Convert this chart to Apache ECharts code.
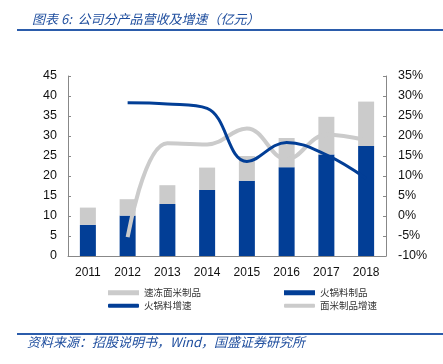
<!DOCTYPE html>
<html>
<head>
<meta charset="utf-8">
<script src="https://cdn.jsdelivr.net/npm/echarts@6/dist/echarts.min.js"></script>
<style>
html,body{margin:0;padding:0;background:#fff;}
#c{width:443px;height:364px;}
</style>
</head>
<body>
<div id="c"></div>
<script>
var years = ['2011','2012','2013','2014','2015','2016','2017','2018'];
var hotpotSales = [7.8, 10.1, 13.0, 16.5, 18.8, 22.2, 25.4, 27.5];
var noodleSales = [4.3, 4.1, 4.7, 5.6, 6.2, 7.3, 9.4, 11.1];
var hotpotGrowth = [null, 28.3, 28.0, 26.9, 13.6, 18.4, 15.3, 9.4];
var noodleGrowth = [null, -5.3, 18.2, 17.9, 21.9, 14.2, 20.3, 19.0];

var BLUE = '#023e96';
var GREY = '#cbcbcb';
var FONT = 'Liberation Sans, Arial, sans-serif';
var CJK = '"Noto Sans CJK SC", sans-serif';

var chart = echarts.init(document.getElementById('c'));
function leg(name, left, top, icon, h) {
  return {
    data: [{name: name, icon: icon}],
    left: left, top: top,
    itemWidth: 31, itemHeight: h, itemGap: 0,
    padding: 0,
    selectedMode: false,
    textStyle: {fontFamily: CJK, fontSize: 9.5, color: '#333', padding: [0,0,0,0]}
  };
}
chart.setOption({
  animation: false,
  title: {
    text: '图表 6:  公司分产品营收及增速（亿元）',
    left: 27, top: 8,
    textStyle: {fontFamily: CJK, fontStyle: 'italic', fontWeight: 'normal', fontSize: 13, color: '#1f4e9e'}
  },
  graphic: [
    {type: 'rect', shape: {x: 17, y: 29, width: 426, height: 2}, style: {fill: '#2b5cab'}},
    {type: 'rect', shape: {x: 17, y: 333, width: 426, height: 2}, style: {fill: '#2b5cab'}},
    {type: 'text', left: 27, top: 336, style: {text: '资料来源：招股说明书，Wind，国盛证券研究所', font: 'italic 13px "Noto Sans CJK SC", sans-serif', fill: '#1f4e9e'}}
  ],
  legend: [
    leg('速冻面米制品', 108, 288, 'rect', 5),
    leg('火锅料制品', 284, 288, 'rect', 5),
    leg('火锅料增速', 108, 301, 'roundRect', 4),
    leg('面米制品增速', 284, 301, 'roundRect', 4)
  ],
  grid: {left: 68, right: 57, top: 76, bottom: 108},
  xAxis: {
    type: 'category', data: years,
    axisLine: {lineStyle: {color: '#888', width: 1}},
    axisTick: {inside: true, length: 3, lineStyle: {color: '#888'}},
    axisLabel: {fontFamily: FONT, fontSize: 12, color: '#111', margin: 11}
  },
  yAxis: [
    {
      type: 'value', min: 0, max: 45, interval: 5,
      splitLine: {show: false},
      axisLine: {show: true, lineStyle: {color: '#888'}},
      axisTick: {show: true, inside: true, length: 3, lineStyle: {color: '#888'}},
      axisLabel: {fontFamily: FONT, fontSize: 12.5, color: '#111', margin: 11}
    },
    {
      type: 'value', min: -10, max: 35, interval: 5,
      splitLine: {show: false},
      axisLine: {show: true, lineStyle: {color: '#888'}},
      axisTick: {show: true, inside: true, length: 3, lineStyle: {color: '#888'}},
      axisLabel: {fontFamily: FONT, fontSize: 12.5, color: '#111', margin: 12, formatter: '{value}%'}
    }
  ],
  series: [
    {name: '火锅料制品', type: 'bar', stack: 's', data: hotpotSales, barWidth: 16, itemStyle: {color: BLUE}},
    {name: '速冻面米制品', type: 'bar', stack: 's', data: noodleSales, barWidth: 16, itemStyle: {color: GREY}},
    {name: '面米制品增速', type: 'line', yAxisIndex: 1, data: noodleGrowth, smooth: 0.4, showSymbol: false, symbol: 'none',
      lineStyle: {color: GREY, width: 4}, itemStyle: {color: GREY}, z: 3},
    {name: '火锅料增速', type: 'line', yAxisIndex: 1, data: hotpotGrowth, smooth: 0.4, showSymbol: false, symbol: 'none',
      lineStyle: {color: BLUE, width: 3}, itemStyle: {color: BLUE}, z: 4}
  ]
});
</script>
</body>
</html>
